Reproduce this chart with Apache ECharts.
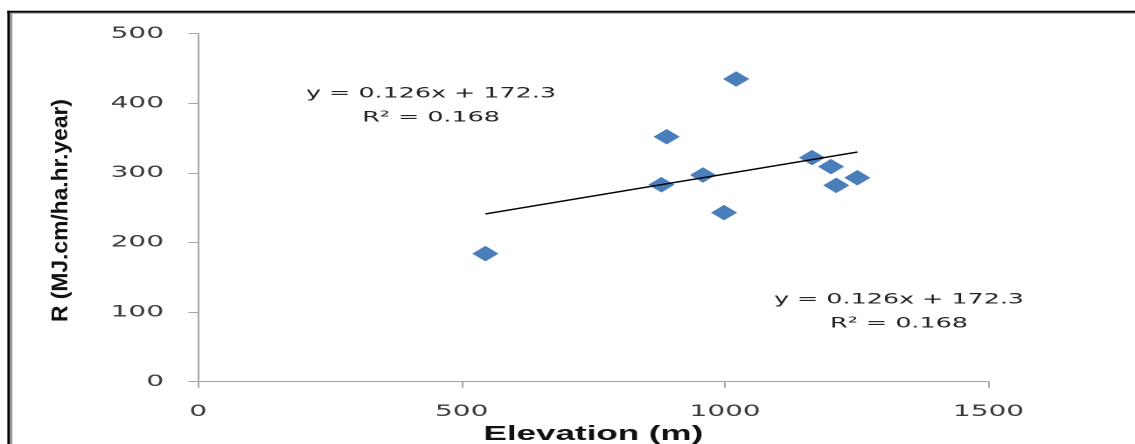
<!DOCTYPE html>
<html>
<head>
<meta charset="utf-8">
<script src="https://cdn.jsdelivr.net/npm/echarts@6/dist/echarts.min.js"></script>
<style>
  html, body {
    margin: 0;
    padding: 0;
    background: #fff;
    overflow: hidden;
  }

  /* the reference is a horizontally stretched picture, so draw narrow and stretch */
  #chart {
    width: 649px;
    height: 444px;
    transform: scaleX(1.7488);
    transform-origin: 0 0;
  }
</style>
</head>
<body>
<div id="chart"></div>
<script>
// data
const elevation = [545, 879, 889, 958, 998, 1021, 1165, 1201, 1211, 1251]
const erosivity = [184, 283, 352, 297, 243, 435, 322, 309, 282, 293]

// trend line end points
const trendX = [545, 1251]
const trendY = [241, 330]

const equationText = 'y = 0.126x + 172.3\nR² = 0.168'
const xName = 'Elevation (m)'
const yName = 'R (MJ.cm/ha.hr.year)'

const S = 1.7488 // horizontal stretch
const ux = (px) => px / S

const chart = echarts.init(document.getElementById('chart'), null, { devicePixelRatio: 2 })

const option = {
  animation: false,
  backgroundColor: '#fff',
  grid: {
    left: ux(198.3),
    right: 649 - ux(988.5),
    top: 33.7,
    bottom: 444 - 381.7,
    containLabel: false,
    outerBoundsMode: 'none'
  },
  xAxis: {
    type: 'value',
    min: 0,
    max: 1500,
    interval: 500,
    name: xName,
    nameLocation: 'middle',
    nameGap: 38,
    nameTextStyle: {
      fontFamily: 'Liberation Sans',
      fontWeight: 'bold',
      fontSize: 20,
      color: '#111'
    },
    axisLine: { show: true, onZero: false, lineStyle: { color: '#a6a6a6', width: 1 } },
    axisTick: { show: true, inside: false, length: 6, lineStyle: { color: '#a6a6a6' } },
    axisLabel: {
      margin: 22,
      fontFamily: 'DejaVu Sans',
      fontSize: 16,
      color: '#3a3a3a',
      formatter: (v) => String(v)
    },
    splitLine: { show: false }
  },
  yAxis: {
    type: 'value',
    min: 0,
    max: 500,
    interval: 100,
    axisLine: { show: true, onZero: false, lineStyle: { color: '#a6a6a6', width: 1 } },
    axisTick: { show: true, inside: false, length: ux(10), lineStyle: { color: '#a6a6a6' } },
    axisLabel: {
      margin: ux(34.3),
      fontFamily: 'DejaVu Sans',
      fontSize: 16,
      color: '#3a3a3a',
      formatter: (v) => String(v)
    },
    splitLine: { show: false }
  },
  series: [
    {
      name: 'R',
      type: 'scatter',
      symbol: 'diamond',
      symbolSize: [15, 15.5],
      itemStyle: { color: '#4a7ebb', opacity: 1 },
      data: elevation.map((x, i) => [x, erosivity[i]]),
      z: 3
    },
    {
      name: 'Linear',
      type: 'line',
      showSymbol: false,
      symbol: 'none',
      lineStyle: { color: '#000', width: 1.4 },
      data: trendX.map((x, i) => [x, trendY[i]]),
      z: 4
    }
  ],
  graphic: [
    // frame (top and left)
    { type: 'line', shape: { x1: ux(7.3), y1: 11.7, x2: 649, y2: 11.7 }, style: { stroke: '#000', lineWidth: 2 } },
    { type: 'line', shape: { x1: ux(10), y1: 13.3, x2: 649, y2: 13.3 }, style: { stroke: '#9a9a9a', lineWidth: 1 } },
    { type: 'line', shape: { x1: ux(8.7), y1: 10.7, x2: ux(8.7), y2: 444 }, style: { stroke: '#000', lineWidth: ux(2.7) } },
    { type: 'line', shape: { x1: ux(11.2), y1: 12.7, x2: ux(11.2), y2: 444 }, style: { stroke: '#9a9a9a', lineWidth: ux(2.3) } },
    // y axis title
    {
      type: 'text',
      x: ux(61),
      y: 210.5,
      rotation: Math.PI / 2,
      scaleX: 1.14,
      scaleY: 0.66,
      style: {
        text: yName,
        fontFamily: 'Liberation Sans',
        fontWeight: 'bold',
        fontSize: 20,
        fill: '#111',
        align: 'center',
        verticalAlign: 'middle'
      }
    },
    // trend line equations
    {
      type: 'text',
      x: ux(431),
      y: 105.5,
      style: {
        text: equationText,
        fontFamily: 'DejaVu Sans',
        fontSize: 14.5,
        lineHeight: 24,
        fill: '#222',
        align: 'center',
        verticalAlign: 'middle'
      }
    },
    {
      type: 'text',
      x: ux(899),
      y: 311.5,
      style: {
        text: equationText,
        fontFamily: 'DejaVu Sans',
        fontSize: 14.5,
        lineHeight: 24,
        fill: '#222',
        align: 'center',
        verticalAlign: 'middle'
      }
    }
  ]
}

chart.setOption(option)
</script>
</body>
</html>
